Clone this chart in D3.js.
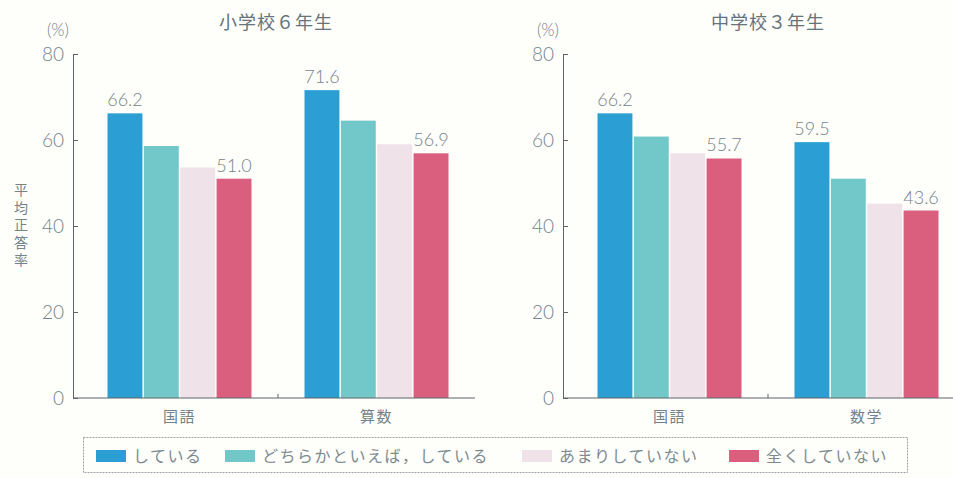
<!DOCTYPE html>
<html lang="ja">
<head>
<meta charset="utf-8">
<script src="https://cdn.jsdelivr.net/npm/d3@7"></script>
<style>
  html, body { margin: 0; padding: 0; background: #fefefb; }
  svg { display: block; }
  text { font-family: "Lato", "Noto Sans CJK JP", sans-serif; }
  .num { font-family: "Lato", sans-serif; font-weight: 300; }
  .jp { font-family: "Noto Sans CJK JP", sans-serif; }
</style>
</head>
<body>
<svg id="chart" width="953" height="478"></svg>
<script>
// Survey answer groups (legend order)
const seriesNames = ["している", "どちらかといえば，している", "あまりしていない", "全くしていない"];
const seriesColors = ["#2b9fd4", "#72c8c8", "#efe2e9", "#da5f7f"];

// Elementary school, grade 6
const elemTitle = "小学校６年生";
const elemSubjects = ["国語", "算数"];
const elemValues = [
  [66.2, 58.6, 53.6, 51.0],
  [71.6, 64.5, 59.0, 56.9]
];

// Junior high school, grade 3
const juniorTitle = "中学校３年生";
const juniorSubjects = ["国語", "数学"];
const juniorValues = [
  [66.2, 60.8, 56.9, 55.7],
  [59.5, 51.0, 45.2, 43.6]
];

// Labelled bars: first and last answer group in each subject
const labelledSeries = [0, 3];
const yTicks = [0, 20, 40, 60, 80];
const yAxisTitle = "平均正答率";
const unitLabel = "(%)";

const svg = d3.select("#chart");
const textColor = "#74838a";
const axisColor = "#5d6468";

const y = d3.scaleLinear().domain([0, 80]).range([398, 54]);

function drawPanel(opts) {
  const g = svg.append("g");
  const ax = opts.axisX;

  const x0 = d3.scaleBand()
    .domain(opts.subjects)
    .range([ax + 8, ax + 8 + 394])
    .padding(0);
  const x1 = d3.scaleBand()
    .domain(d3.range(seriesNames.length))
    .range([26.5, x0.bandwidth() - 26.5])
    .paddingInner(0.04);

  // bars
  opts.subjects.forEach((s, i) => {
    const grp = g.append("g").attr("transform", `translate(${x0(s)},0)`);
    grp.selectAll("rect")
      .data(opts.values[i])
      .join("rect")
      .attr("x", (d, j) => x1(j))
      .attr("y", d => y(d))
      .attr("width", x1.bandwidth())
      .attr("height", d => y(0) - y(d))
      .attr("fill", (d, j) => seriesColors[j]);
    grp.selectAll("text.val")
      .data(opts.values[i].map((v, j) => ({ v, j })).filter(d => labelledSeries.includes(d.j)))
      .join("text")
      .attr("class", "val num")
      .attr("x", d => x1(d.j) + x1.bandwidth() / 2)
      .attr("y", d => y(d.v) - 7)
      .attr("text-anchor", "middle")
      .attr("fill", textColor)
      .style("font-size", "18px")
      .text(d => d.v.toFixed(1));
  });

  // y axis with inward ticks
  const yAxis = d3.axisLeft(y).tickValues(yTicks).tickSizeInner(-5).tickSizeOuter(0).tickPadding(9);
  const ya = g.append("g").attr("transform", `translate(${ax},0)`).call(yAxis);
  ya.select(".domain").attr("stroke", axisColor);
  ya.selectAll(".tick line").attr("stroke", axisColor);
  ya.selectAll(".tick text")
    .attr("class", "num")
    .attr("fill", textColor)
    .style("font-size", "19px");

  // x axis: baseline with a divider tick between subjects
  const xAxis = d3.axisBottom(x0).tickSize(0).tickPadding(13);
  const xa = g.append("g").attr("transform", `translate(0,${y(0)})`).call(xAxis);
  xa.select(".domain").attr("stroke", axisColor).attr("d", `M${ax},0H${opts.axisEnd}`);
  xa.selectAll(".tick text")
    .attr("class", "jp")
    .attr("fill", textColor)
    .style("font-size", "15px")
    .style("letter-spacing", "1.5px");
  xa.append("line")
    .attr("x1", x0(opts.subjects[1])).attr("x2", x0(opts.subjects[1]))
    .attr("y1", 0).attr("y2", -4)
    .attr("stroke", axisColor);

  // titles
  g.append("text")
    .attr("class", "jp")
    .attr("x", opts.titleX).attr("y", 29)
    .attr("text-anchor", "middle")
    .attr("fill", "#65737a")
    .style("font-size", "18px")
    .style("letter-spacing", "1px")
    .text(opts.title);
  g.append("text")
    .attr("class", "num")
    .attr("x", ax - 15).attr("y", 36)
    .attr("text-anchor", "middle")
    .attr("fill", textColor)
    .style("font-size", "17px")
    .text(unitLabel);
}

drawPanel({ axisX: 73, axisEnd: 475, subjects: elemSubjects, values: elemValues, title: elemTitle, titleX: 276 });
drawPanel({ axisX: 563, axisEnd: 953, subjects: juniorSubjects, values: juniorValues, title: juniorTitle, titleX: 768 });

// vertical y-axis title written top to bottom
svg.append("text")
  .attr("class", "jp")
  .attr("x", 21).attr("y", 183)
  .attr("fill", textColor)
  .style("font-size", "14px")
  .style("writing-mode", "vertical-rl")
  .style("text-orientation", "upright")
  .style("letter-spacing", "3.4px")
  .text(yAxisTitle);

// legend
const legend = svg.append("g");
legend.append("rect")
  .attr("x", 83.5).attr("y", 437.5).attr("width", 824).attr("height", 35)
  .attr("fill", "none")
  .attr("stroke", "#9aa2a6")
  .attr("stroke-dasharray", "2,1");
const legendX = [96, 225, 522, 729];
seriesNames.forEach((name, i) => {
  legend.append("rect")
    .attr("x", legendX[i]).attr("y", 450)
    .attr("width", 30).attr("height", 12)
    .attr("fill", seriesColors[i]);
  legend.append("text")
    .attr("class", "jp")
    .attr("x", legendX[i] + 37).attr("y", 462)
    .attr("fill", "#7c8a90")
    .style("font-size", "16px")
    .style("letter-spacing", "1.5px")
    .text(name);
});
</script>
</body>
</html>
